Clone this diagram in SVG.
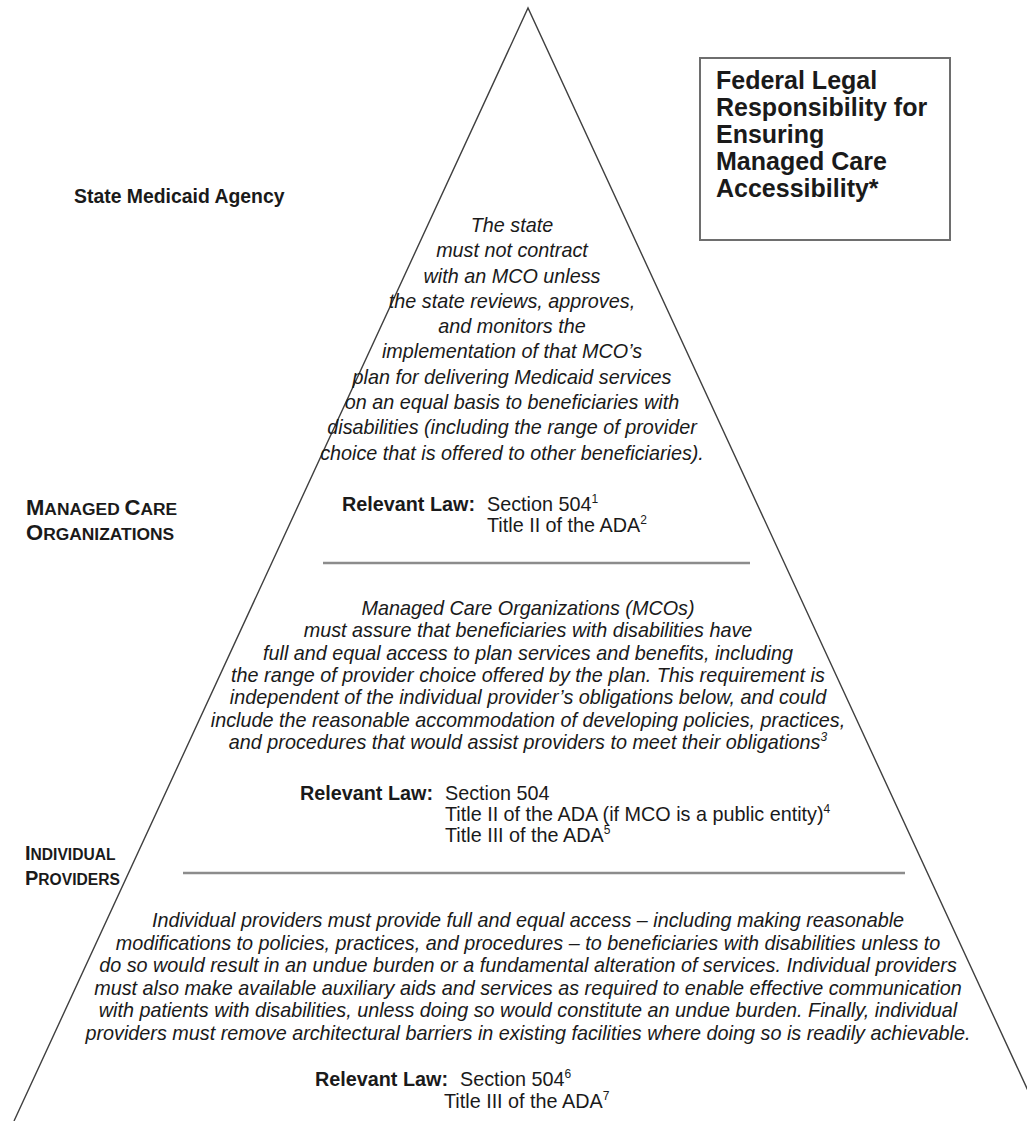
<svg xmlns="http://www.w3.org/2000/svg" width="1027" height="1121" viewBox="0 0 1027 1121">
<style>
text{font-family:"Liberation Sans",Arial,Helvetica,sans-serif;fill:#1a1a1a}
.it{font-style:italic;font-size:19.8px}
.law{font-weight:bold;font-size:19.8px}
.reg{font-size:19.8px}
.sup{font-size:12px}
.lbl{font-weight:bold;font-size:20px}
.sc{font-size:15.6px}
.lbl2{font-weight:bold;font-size:22px}
.sc2{font-size:17.4px}
.title{font-weight:bold;font-size:25px}
.edge{fill:none;stroke:#404040;stroke-width:1.4}
.div{stroke:#8c8c8c;stroke-width:2.5}
</style>
<g id="connectors">
  <path class="edge" d="M14,1121 L528,8 L1042,1121"/>
  <line class="div" x1="323" y1="563" x2="750" y2="563"/>
  <line class="div" x1="183" y1="873" x2="905" y2="873"/>
</g>
<g id="title-box">
  <rect x="700" y="58" width="250" height="182" fill="#fff" stroke="#6e6e6e" stroke-width="2"/>
  <text class="title" x="716" y="89">Federal Legal</text>
  <text class="title" x="716" y="116">Responsibility for</text>
  <text class="title" x="716" y="143">Ensuring</text>
  <text class="title" x="716" y="170">Managed Care</text>
  <text class="title" x="716" y="197">Accessibility*</text>
</g>
<g id="label-state">
  <text class="lbl" x="74" y="203" style="font-size:19.4px">State Medicaid Agency</text>
</g>
<g id="label-mco">
  <text class="lbl2" x="26" y="515">M<tspan class="sc2">ANAGED </tspan>C<tspan class="sc2">ARE</tspan></text>
  <text class="lbl2" x="26" y="540">O<tspan class="sc2">RGANIZATIONS</tspan></text>
</g>
<g id="label-providers">
  <text class="lbl" x="25" y="860">I<tspan class="sc">NDIVIDUAL</tspan></text>
  <text class="lbl" x="25" y="885">P<tspan class="sc">ROVIDERS</tspan></text>
</g>
<g id="tier-state" text-anchor="middle">
  <text class="it" x="512" y="232">The state</text>
  <text class="it" x="512" y="257">must not contract</text>
  <text class="it" x="512" y="283">with an MCO unless</text>
  <text class="it" x="512" y="308">the state reviews, approves,</text>
  <text class="it" x="512" y="333">and monitors the</text>
  <text class="it" x="512" y="358">implementation of that MCO’s</text>
  <text class="it" x="512" y="384">plan for delivering Medicaid services</text>
  <text class="it" x="512" y="409">on an equal basis to beneficiaries with</text>
  <text class="it" x="512" y="434">disabilities (including the range of provider</text>
  <text class="it" x="512" y="460">choice that is offered to other beneficiaries).</text>
</g>
<g id="law-state">
  <text class="law" x="342" y="511">Relevant Law:</text>
  <text class="reg" x="487" y="511">Section 504<tspan class="sup" dy="-8">1</tspan></text>
  <text class="reg" x="487" y="532">Title II of the ADA<tspan class="sup" dy="-8">2</tspan></text>
</g>
<g id="tier-mco" text-anchor="middle">
  <text class="it" x="528" y="615">Managed Care Organizations (MCOs)</text>
  <text class="it" x="528" y="637">must assure that beneficiaries with disabilities have</text>
  <text class="it" x="528" y="660">full and equal access to plan services and benefits, including</text>
  <text class="it" x="528" y="682">the range of provider choice offered by the plan. This requirement is</text>
  <text class="it" x="528" y="704">independent of the individual provider’s obligations below, and could</text>
  <text class="it" x="528" y="727">include the reasonable accommodation of developing policies, practices,</text>
  <text class="it" x="528" y="749">and procedures that would assist providers to meet their obligations<tspan class="sup" dy="-8">3</tspan></text>
</g>
<g id="law-mco">
  <text class="law" x="300" y="800">Relevant Law:</text>
  <text class="reg" x="445" y="800">Section 504</text>
  <text class="reg" x="445" y="821">Title II of the ADA (if MCO is a public entity)<tspan class="sup" dy="-8">4</tspan></text>
  <text class="reg" x="445" y="842">Title III of the ADA<tspan class="sup" dy="-8">5</tspan></text>
</g>
<g id="tier-providers" text-anchor="middle">
  <text class="it" x="528" y="927">Individual providers must provide full and equal access – including making reasonable</text>
  <text class="it" x="528" y="949.5">modifications to policies, practices, and procedures – to beneficiaries with disabilities unless to</text>
  <text class="it" x="528" y="972">do so would result in an undue burden or a fundamental alteration of services. Individual providers</text>
  <text class="it" x="528" y="994.5">must also make available auxiliary aids and services as required to enable effective communication</text>
  <text class="it" x="528" y="1017">with patients with disabilities, unless doing so would constitute an undue burden. Finally, individual</text>
  <text class="it" x="528" y="1039.5">providers must remove architectural barriers in existing facilities where doing so is readily achievable.</text>
</g>
<g id="law-providers">
  <text class="law" x="315" y="1086">Relevant Law:</text>
  <text class="reg" x="460" y="1086">Section 504<tspan class="sup" dy="-8">6</tspan></text>
  <text class="reg" x="444" y="1108">Title III of the ADA<tspan class="sup" dy="-8">7</tspan></text>
</g>
</svg>
